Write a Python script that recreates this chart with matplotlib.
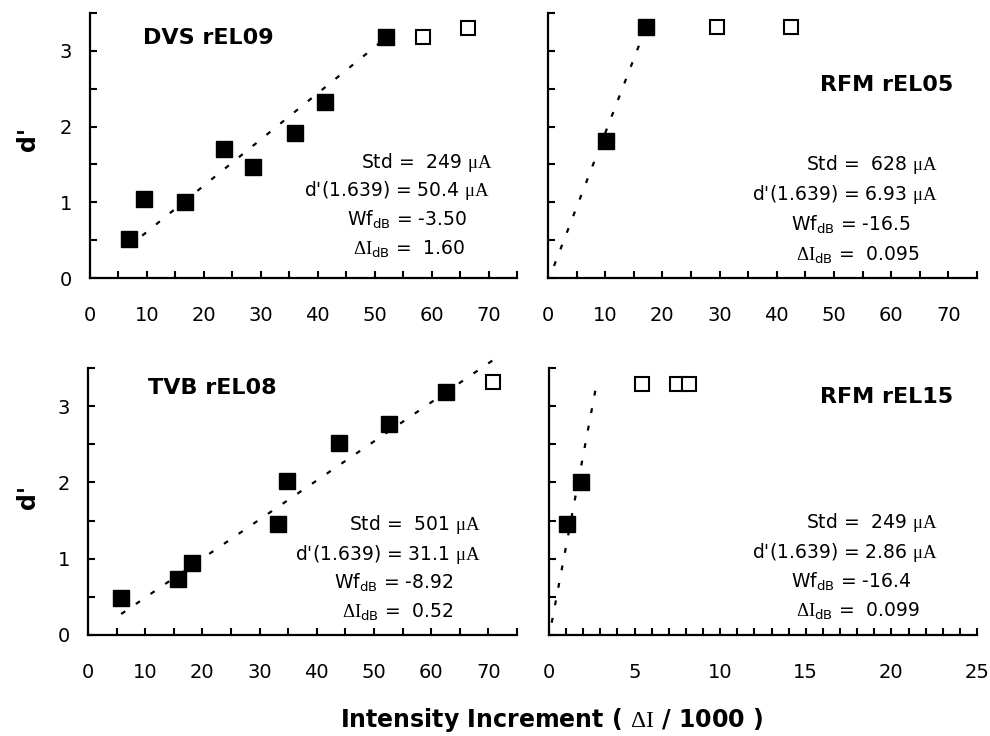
import matplotlib
matplotlib.use('Agg')
import matplotlib.pyplot as plt
from matplotlib.ticker import MultipleLocator

plt.rcParams['font.family'] = ['DejaVu Sans']
plt.rcParams['mathtext.fontset'] = 'custom'
plt.rcParams['mathtext.rm'] = 'DejaVu Sans'
plt.rcParams['mathtext.it'] = 'DejaVu Sans:italic'
plt.rcParams['mathtext.sf'] = 'Liberation Serif'

W, H = 990, 736

# Panel names
names = ['DVS rEL09', 'RFM rEL05', 'TVB rEL08', 'RFM rEL15']

# Filled squares (fitted points)
fill_x = [
    [6.9, 9.5, 16.6, 23.5, 28.6, 36.0, 41.3, 52.0],
    [10.2, 17.1],
    [5.8, 15.7, 18.2, 33.2, 34.8, 43.9, 52.6, 62.5],
    [1.07, 1.85],
]
fill_y = [
    [0.52, 1.05, 1.01, 1.70, 1.46, 1.91, 2.33, 3.18],
    [1.81, 3.32],
    [0.48, 0.73, 0.94, 1.45, 2.02, 2.52, 2.77, 3.18],
    [1.45, 2.01],
]

# Open squares (excluded points)
open_x = [
    [58.5, 66.4],
    [29.5, 42.5],
    [70.8],
    [5.45, 7.46, 8.2],
]
open_y = [
    [3.18, 3.30],
    [3.32, 3.32],
    [3.31],
    [3.29, 3.29, 3.29],
]

# Linear fits: d' = a + b * x, drawn between x0 and x1
fit_a = [0.0, -0.046, -0.022, -0.03]
fit_b = [0.061, 0.196, 0.0512, 1.195]
fit_x0 = [6.75, 1.05, 5.8, 0.16]
fit_x1 = [52.0, 16.7, 70.8, 2.82]

# Stats
std_vals = ['249', '628', '501', '249']
dprime_vals = ['50.4', '6.93', '31.1', '2.86']
wf_vals = ['-3.50', '-16.5', '-8.92', '-16.4']
di_vals = ['1.60', '0.095', '0.52', '0.099']

x_max = [75, 75, 75, 25]

# layout (pixels)
axes_px = [
    (90, 13, 427, 265),
    (548, 13, 429, 265),
    (88, 368, 429, 267),
    (549, 368, 428, 267),
]
name_pos = [(143, 38, 'left'), (953, 85, 'right'), (148, 388, 'left'), (953, 397, 'right')]
# stats line centers: (x of each line, y of first line)
stats_x = [
    (427, 397, 407, 409),
    (872, 845, 851, 858),
    (415, 388, 394, 398),
    (872, 845, 851, 858),
]
stats_y = [162, 165, 525, 523]
stats_dy = [29, 30, 29, 29.5]

fig = plt.figure(figsize=(W / 100, H / 100), dpi=100)

for i in range(4):
    l, t, w, h = axes_px[i]
    ax = fig.add_axes([l / W, 1 - (t + h) / H, w / W, h / H])
    ax.set_xlim(0, x_max[i])
    ax.set_ylim(0, 3.5)
    for s in ['top', 'right']:
        ax.spines[s].set_visible(False)
    for s in ['left', 'bottom']:
        ax.spines[s].set_linewidth(1.6)

    if x_max[i] == 75:
        ax.xaxis.set_major_locator(MultipleLocator(10))
        ax.xaxis.set_minor_locator(MultipleLocator(5))
    else:
        ax.xaxis.set_major_locator(MultipleLocator(5))
        ax.xaxis.set_minor_locator(MultipleLocator(1))
    ax.yaxis.set_major_locator(MultipleLocator(1))
    ax.yaxis.set_minor_locator(MultipleLocator(0.5))
    ax.tick_params(which='both', direction='in', length=5, width=1.5, labelsize=14)
    ax.tick_params(axis='x', pad=20)
    ax.tick_params(axis='y', pad=13)
    if i in (1, 3):
        ax.tick_params(axis='y', labelleft=False)

    a, b = fit_a[i], fit_b[i]
    xs = [fit_x0[i], fit_x1[i]]
    ax.plot(xs, [a + b * x for x in xs], color='black', lw=1.6,
            linestyle=(0, (2.2, 5.8)), clip_on=False)
    ax.plot(fill_x[i], fill_y[i], 's', ms=11, color='black', clip_on=False)
    ax.plot(open_x[i], open_y[i], 's', ms=9.5, mfc='white', mec='black',
            mew=1.5, clip_on=False)

    nx, ny, ha = name_pos[i]
    fig.text(nx / W, 1 - ny / H, names[i], fontsize=16, fontweight='bold',
             ha=ha, va='center')

    lines = [
        'Std =  ' + std_vals[i] + r' $\mathsf{\mu A}$',
        "d'(1.639) = " + dprime_vals[i] + r' $\mathsf{\mu A}$',
        r'Wf$_{\mathrm{dB}}$ = ' + wf_vals[i],
        r'$\mathsf{\Delta I}_{\mathrm{dB}}$ =  ' + di_vals[i],
    ]
    for k, txt in enumerate(lines):
        fig.text(stats_x[i][k] / W, 1 - (stats_y[i] + k * stats_dy[i]) / H, txt,
                 fontsize=13.5, ha='center', va='center')

fig.text(28 / W, 1 - 139 / H, "d'", rotation=90, fontsize=17,
         fontweight='bold', ha='center', va='center')
fig.text(28 / W, 1 - 497 / H, "d'", rotation=90, fontsize=17,
         fontweight='bold', ha='center', va='center')
fig.text(551 / W, 1 - 720 / H, r'Intensity Increment ( $\mathsf{\Delta I}$ / 1000 )',
         fontsize=17, fontweight='bold', ha='center', va='center')

fig.savefig('out.png', dpi=100)
